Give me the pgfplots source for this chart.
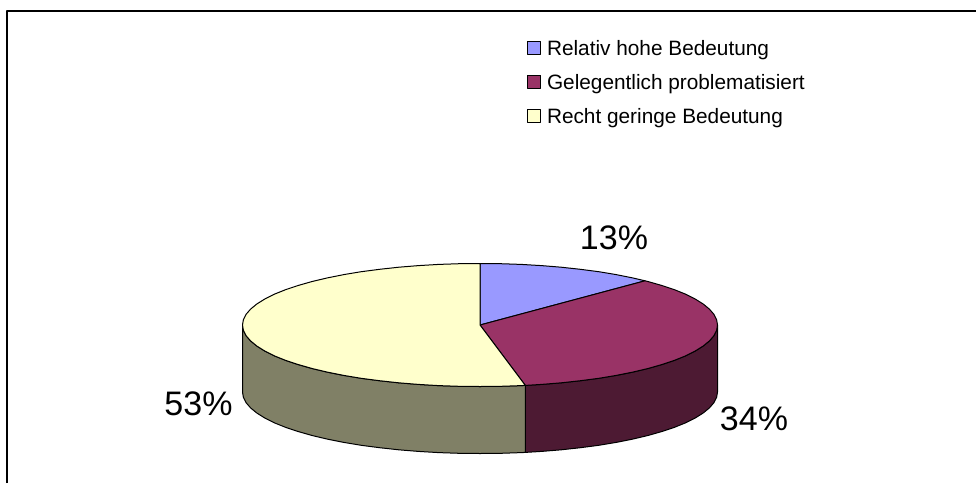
\documentclass[border=0pt]{standalone}
\usepackage{pgfplots}
\pgfplotsset{compat=1.18}
\usepackage{fontspec}
\setmainfont{Liberation Sans}
\definecolor{cblue}{HTML}{9999FF}
\definecolor{cmaroon}{HTML}{993366}
\definecolor{cyellow}{HTML}{FFFFCC}
\definecolor{colive}{HTML}{808066}
\definecolor{cdark}{HTML}{4D1A33}
\begin{document}
\begin{tikzpicture}
\path[use as bounding box] (0,0) rectangle (976pt,483pt);
\begin{axis}[
  hide axis, scale only axis, width=976pt, height=483pt,
  xmin=0, xmax=976, ymin=0, ymax=483, y dir=reverse,
  clip=true,
  every axis plot/.append style={line width=1pt, black, line join=round, mark=none},
  legend cell align=left,
  legend image code/.code={\draw[#1,line width=1pt] (0pt,-6pt) rectangle (13pt,7pt);},
  legend style={at={(axis cs:527,40)}, anchor=north west, draw=none, fill=none,
    font=\fontsize{20.8}{23}\selectfont, inner sep=0pt, outer sep=0pt,
    row sep=17.5pt, nodes={inner sep=0pt, outer sep=0pt}, /tikz/column 2/.style={column sep=0pt}},
]
% page frame (top and left only)
\addplot[forget plot, line width=2.2pt] coordinates {(7,483)(7,11)(976,11)};
% side walls
\addplot[forget plot, fill=cdark] coordinates {
(717.5,325)(716.6,330.4)(713.9,335.7)(709.4,340.9)(703.2,346.0)(695.2,351.0)(685.7,355.8)(674.5,360.3)(661.9,364.5)(647.9,368.5)(632.7,372.1)(616.2,375.4)(598.8,378.3)(580.4,380.7)(561.2,382.8)(541.5,384.4)(525.3,385.4)
(525.3,452.4)(541.5,451.4)(561.2,449.8)(580.4,447.7)(598.8,445.3)(616.2,442.4)(632.7,439.1)(647.9,435.5)(661.9,431.5)(674.5,427.3)(685.7,422.8)(695.2,418.0)(703.2,413.0)(709.4,407.9)(713.9,402.7)(716.6,397.4)(717.5,392)
} --cycle;
\addplot[forget plot, fill=colive] coordinates {
(525.3,385.4)(521.2,385.6)(500.7,386.3)(480,386.5)(459.3,386.3)(438.8,385.6)(418.5,384.4)(398.8,382.8)(379.6,380.7)(361.2,378.3)(343.8,375.4)(327.3,372.1)(312.1,368.5)(298.1,364.5)(285.5,360.3)(274.3,355.8)(264.8,351.0)(256.8,346.0)(250.6,340.9)(246.1,335.7)(243.4,330.4)(242.5,325)
(242.5,392)(243.4,397.4)(246.1,402.7)(250.6,407.9)(256.8,413.0)(264.8,418.0)(274.3,422.8)(285.5,427.3)(298.1,431.5)(312.1,435.5)(327.3,439.1)(343.8,442.4)(361.2,445.3)(379.6,447.7)(398.8,449.8)(418.5,451.4)(438.8,452.6)(459.3,453.3)(480,453.5)(500.7,453.3)(521.2,452.6)(525.3,452.4)
} --cycle;
% top faces
\addplot[fill=cblue] coordinates {
(480,325)(480,263.5)(500.7,263.7)(521.2,264.4)(541.5,265.6)(561.2,267.2)(580.4,269.3)(598.8,271.7)(616.2,274.6)(632.7,277.9)(645,280.8)
} --cycle;
\addplot[fill=cmaroon] coordinates {
(480,325)(645,280.8)(647.9,281.5)(661.9,285.5)(674.5,289.7)(685.7,294.2)(695.2,299.0)(703.2,304.0)(709.4,309.1)(713.9,314.3)(716.6,319.6)(717.5,325)(716.6,330.4)(713.9,335.7)(709.4,340.9)(703.2,346.0)(695.2,351.0)(685.7,355.8)(674.5,360.3)(661.9,364.5)(647.9,368.5)(632.7,372.1)(616.2,375.4)(598.8,378.3)(580.4,380.7)(561.2,382.8)(541.5,384.4)(525.3,385.4)
} --cycle;
\addplot[fill=cyellow] coordinates {
(480,325)(525.3,385.4)(521.2,385.6)(500.7,386.3)(480,386.5)(459.3,386.3)(438.8,385.6)(418.5,384.4)(398.8,382.8)(379.6,380.7)(361.2,378.3)(343.8,375.4)(327.3,372.1)(312.1,368.5)(298.1,364.5)(285.5,360.3)(274.3,355.8)(264.8,351.0)(256.8,346.0)(250.6,340.9)(246.1,335.7)(243.4,330.4)(242.5,325)(243.4,319.6)(246.1,314.3)(250.6,309.1)(256.8,304.0)(264.8,299.0)(274.3,294.2)(285.5,289.7)(298.1,285.5)(312.1,281.5)(327.3,277.9)(343.8,274.6)(361.2,271.7)(379.6,269.3)(398.8,267.2)(418.5,265.6)(438.8,264.4)(459.3,263.7)(480,263.5)
} --cycle;
\legend{\hspace{6pt}Relativ hohe Bedeutung,\hspace{6pt}Gelegentlich problematisiert,\hspace{6pt}Recht geringe Bedeutung}
\node[font=\fontsize{34}{36}\selectfont] at (axis cs:614,238) {13\%};
\node[font=\fontsize{34}{36}\selectfont] at (axis cs:754,419) {34\%};
\node[font=\fontsize{34}{36}\selectfont] at (axis cs:198.5,404) {53\%};
\end{axis}
\end{tikzpicture}
\end{document}
